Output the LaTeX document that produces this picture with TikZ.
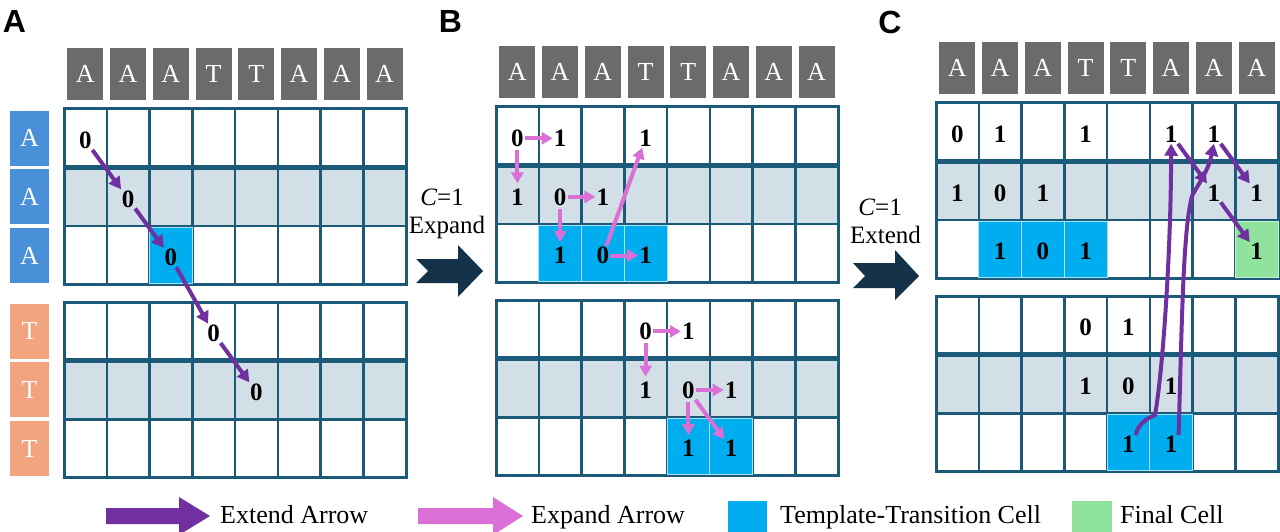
\documentclass[tikz,border=0pt]{standalone}
\usepackage{fontspec}
\setmainfont{Liberation Serif}
\newfontfamily\lsans{Liberation Sans}
\usetikzlibrary{arrows.meta}
\definecolor{gridc}{HTML}{1B5A78}
\definecolor{bandc}{HTML}{D3DFE6}
\definecolor{hdrc}{HTML}{6B6B6B}
\definecolor{rowac}{HTML}{4A90D9}
\definecolor{rowtc}{HTML}{F2A47F}
\definecolor{tcellc}{HTML}{00AEEF}
\definecolor{fcellc}{HTML}{90E39C}
\definecolor{extc}{HTML}{7030A0}
\definecolor{expc}{HTML}{DA70D6}
\definecolor{chevc}{HTML}{14334A}
\tikzset{
  gl/.style={draw=gridc, line width=2.5pt},
  hdr/.style={fill=hdrc, text=white, minimum width=36pt, minimum height=52pt, inner sep=0pt, font=\fontsize{26}{30}\selectfont},
  rowa/.style={fill=rowac, text=white, minimum width=39pt, minimum height=55pt, inner sep=0pt, font=\fontsize{26}{30}\selectfont},
  rowt/.style={fill=rowtc, text=white, minimum width=39pt, minimum height=55pt, inner sep=0pt, font=\fontsize{26}{30}\selectfont},
  num/.style={font=\bfseries\fontsize{25}{30}\selectfont, inner sep=1pt, yshift=-2pt},
  tc/.style={fill=tcellc, draw=tcellc!35!white, line width=1pt},
  fc/.style={fill=fcellc, draw=fcellc!45!white, line width=1pt},
  extarr/.style={draw=extc, line width=4pt, -{Triangle[length=12pt,width=13pt]}},
  exparr/.style={draw=expc, line width=4pt, -{Triangle[length=11pt,width=12pt]}},
  vshort/.style={shorten <=2pt, shorten >=4pt},
  lbl/.style={font=\fontsize{25}{30}\selectfont, inner sep=0pt},
  leg/.style={font=\fontsize{26}{30}\selectfont, inner sep=0pt},
  plabel/.style={font=\lsans\bfseries\fontsize{32}{36}\selectfont, inner sep=0pt},
  chev/.style={fill=chevc},
}
\def\bo{3.295}
\newcommand\blk[1]{%
  \fill[bandc] (0,#1+1) rectangle (8,#1+2);
  \foreach \i in {1,...,7} \draw[gl] (\i,#1) -- (\i,#1+3);
  \draw[gl] (0,#1+2) -- (8,#1+2);
  \draw[gl,line width=5pt] (0,#1+1) -- (8,#1+1);
  \draw[gl,line width=3pt] (0,#1) rectangle (8,#1+3);
}
\newcommand\tcell[3]{\filldraw[#3] ([yshift=-1.3pt]#1-1,#2+2) rectangle ([yshift=1.3pt]#1,#2+3);}
\newcommand\hdrrow[1]{%
  \foreach \lt [count=\c] in {A,A,A,T,T,A,A,A} \node[hdr] (#1h\c) at (\c-0.5,-0.6) {\lt};
}
\begin{document}
\begin{tikzpicture}[x=1pt,y=-1pt]
\useasboundingbox (0,0) rectangle (1280,532);
\fill[white] (0,0) rectangle (1280,532);

% panel labels
\node[plabel] (LA) at (14.5,21.5) {A};
\node[plabel] (LB) at (450.5,21.5) {B};
\node[plabel] (LC) at (890,22.5) {C};

% ---------------- Panel A
\begin{scope}[shift={(64,109)},x=42.75pt,y=-58.6pt]
  \hdrrow{A}
  \node[rowa] (Ar1) at (-0.807,0.5) {A};
  \node[rowa] (Ar2) at (-0.807,1.5) {A};
  \node[rowa] (Ar3) at (-0.807,2.5) {A};
  \node[rowt] (Ar4) at (-0.807,\bo+0.5) {T};
  \node[rowt] (Ar5) at (-0.807,\bo+1.5) {T};
  \node[rowt] (Ar6) at (-0.807,\bo+2.5) {T};
  \blk{0}
  \blk{\bo}
  \tcell{3}{0}{tc}
  \node[num] (At11) at (0.5,0.5) {0};
  \node[num] (At22) at (1.5,1.5) {0};
  \node[num] (At33) at (2.5,2.5) {0};
  \node[num] (Ab14) at (3.5,\bo+0.5) {0};
  \node[num] (Ab25) at (4.5,\bo+1.5) {0};
\end{scope}
\draw[extarr] (At11) -- (At22);
\draw[extarr] (At22) -- (At33);
\draw[extarr] (At33) -- (Ab14);
\draw[extarr] (Ab14) -- (Ab25);

% ---------------- between A and B
\node[lbl, anchor=base] (CB1) at (442,205) {\textit{C}=1};
\node[lbl, anchor=base] (CB2) at (447,233) {Expand};
\fill[chev] (416,259) -- (458,259) -- (458,245) -- (483,271) -- (458,297) -- (458,283) -- (416,283) -- (428,271) -- cycle;

% ---------------- Panel B
\begin{scope}[shift={(496,107)},x=42.75pt,y=-58.6pt]
  \hdrrow{B}
  \blk{0}
  \blk{\bo}
  \tcell{2}{0}{tc}
  \tcell{3}{0}{tc}
  \tcell{4}{0}{tc}
  \tcell{5}{\bo}{tc}
  \tcell{6}{\bo}{tc}
  \node[num] (Bt11) at (0.5,0.5) {0};
  \node[num] (Bt12) at (1.5,0.5) {1};
  \node[num] (Bt14) at (3.5,0.5) {1};
  \node[num] (Bt21) at (0.5,1.5) {1};
  \node[num] (Bt22) at (1.5,1.5) {0};
  \node[num] (Bt23) at (2.5,1.5) {1};
  \node[num] (Bt32) at (1.5,2.5) {1};
  \node[num] (Bt33) at (2.5,2.5) {0};
  \node[num] (Bt34) at (3.5,2.5) {1};
  \node[num] (Bb14) at (3.5,\bo+0.5) {0};
  \node[num] (Bb15) at (4.5,\bo+0.5) {1};
  \node[num] (Bb24) at (3.5,\bo+1.5) {1};
  \node[num] (Bb25) at (4.5,\bo+1.5) {0};
  \node[num] (Bb26) at (5.5,\bo+1.5) {1};
  \node[num] (Bb35) at (4.5,\bo+2.5) {1};
  \node[num] (Bb36) at (5.5,\bo+2.5) {1};
\end{scope}
\draw[exparr] (Bt11) -- (Bt12);
\draw[exparr, vshort] (Bt11) -- (Bt21);
\draw[exparr] (Bt22) -- (Bt23);
\draw[exparr, vshort] (Bt22) -- (Bt32);
\draw[exparr] (Bt33) -- (Bt14);
\draw[exparr] (Bt33) -- (Bt34);
\draw[exparr] (Bb14) -- (Bb15);
\draw[exparr, vshort] (Bb14) -- (Bb24);
\draw[exparr] (Bb25) -- (Bb26);
\draw[exparr, vshort] (Bb25) -- (Bb35);
\draw[exparr] (Bb25) -- (Bb36);

% ---------------- between B and C
\node[lbl, anchor=base] (CC1) at (880,215) {\textit{C}=1};
\node[lbl, anchor=base] (CC2) at (885.5,243) {Extend};
\fill[chev] (853,263) -- (895,263) -- (895,250) -- (919,276) -- (895,300) -- (895,288) -- (853,288) -- (865,276) -- cycle;

% ---------------- Panel C
\begin{scope}[shift={(936,103)},x=42.75pt,y=-58.6pt]
  \hdrrow{C}
  \blk{0}
  \blk{\bo}
  \tcell{2}{0}{tc}
  \tcell{3}{0}{tc}
  \tcell{4}{0}{tc}
  \tcell{8}{0}{fc}
  \tcell{5}{\bo}{tc}
  \tcell{6}{\bo}{tc}
  \node[num] (Ct11) at (0.5,0.5) {0};
  \node[num] (Ct12) at (1.5,0.5) {1};
  \node[num] (Ct14) at (3.5,0.5) {1};
  \node[num] (Ct16) at (5.5,0.5) {1};
  \node[num] (Ct17) at (6.5,0.5) {1};
  \node[num] (Ct21) at (0.5,1.5) {1};
  \node[num] (Ct22) at (1.5,1.5) {0};
  \node[num] (Ct23) at (2.5,1.5) {1};
  \node[num] (Ct27) at (6.5,1.5) {1};
  \node[num] (Ct28) at (7.5,1.5) {1};
  \node[num] (Ct32) at (1.5,2.5) {1};
  \node[num] (Ct33) at (2.5,2.5) {0};
  \node[num] (Ct34) at (3.5,2.5) {1};
  \node[num] (Ct38) at (7.5,2.5) {1};
  \node[num] (Cb14) at (3.5,\bo+0.5) {0};
  \node[num] (Cb15) at (4.5,\bo+0.5) {1};
  \node[num] (Cb24) at (3.5,\bo+1.5) {1};
  \node[num] (Cb25) at (4.5,\bo+1.5) {0};
  \node[num] (Cb26) at (5.5,\bo+1.5) {1};
  \node[num] (Cb35) at (4.5,\bo+2.5) {1};
  \node[num] (Cb36) at (5.5,\bo+2.5) {1};
\end{scope}
\draw[extarr] (Ct16) -- (Ct27);
\draw[extarr] (Ct17) -- (Ct28);
\draw[extarr] (Ct27) -- (Ct38);
\draw[extarr] (Cb35.north east) .. controls (1137,425) and (1147,418) .. (1155,415)
   .. controls (1163,370) and (1171,250) .. (Ct16.south);
\draw[extarr] (Cb36.north east) .. controls (1182,320) and (1183,230) .. (1192,196)
   .. controls (1197,186) and (1208,172) .. (Ct17.south);

% ---------------- legend
\fill[extc] (106,508) -- (179,508) -- (179,497) -- (210,516) -- (179,535) -- (179,524) -- (106,524) -- cycle;
\node[leg, anchor=base west] (L1) at (220,523) {Extend Arrow};
\fill[expc] (418,508) -- (493,508) -- (493,497) -- (523,516) -- (493,535) -- (493,524) -- (418,524) -- cycle;
\node[leg, anchor=base west] (L2) at (531,523) {Expand Arrow};
\fill[tcellc] (728,501) rectangle (767,532);
\node[leg, anchor=base west] (L3) at (780,523) {Template-Transition Cell};
\fill[fcellc] (1072,501) rectangle (1112,532);
\node[leg, anchor=base west] (L4) at (1120,523) {Final Cell};
\end{tikzpicture}
\end{document}
